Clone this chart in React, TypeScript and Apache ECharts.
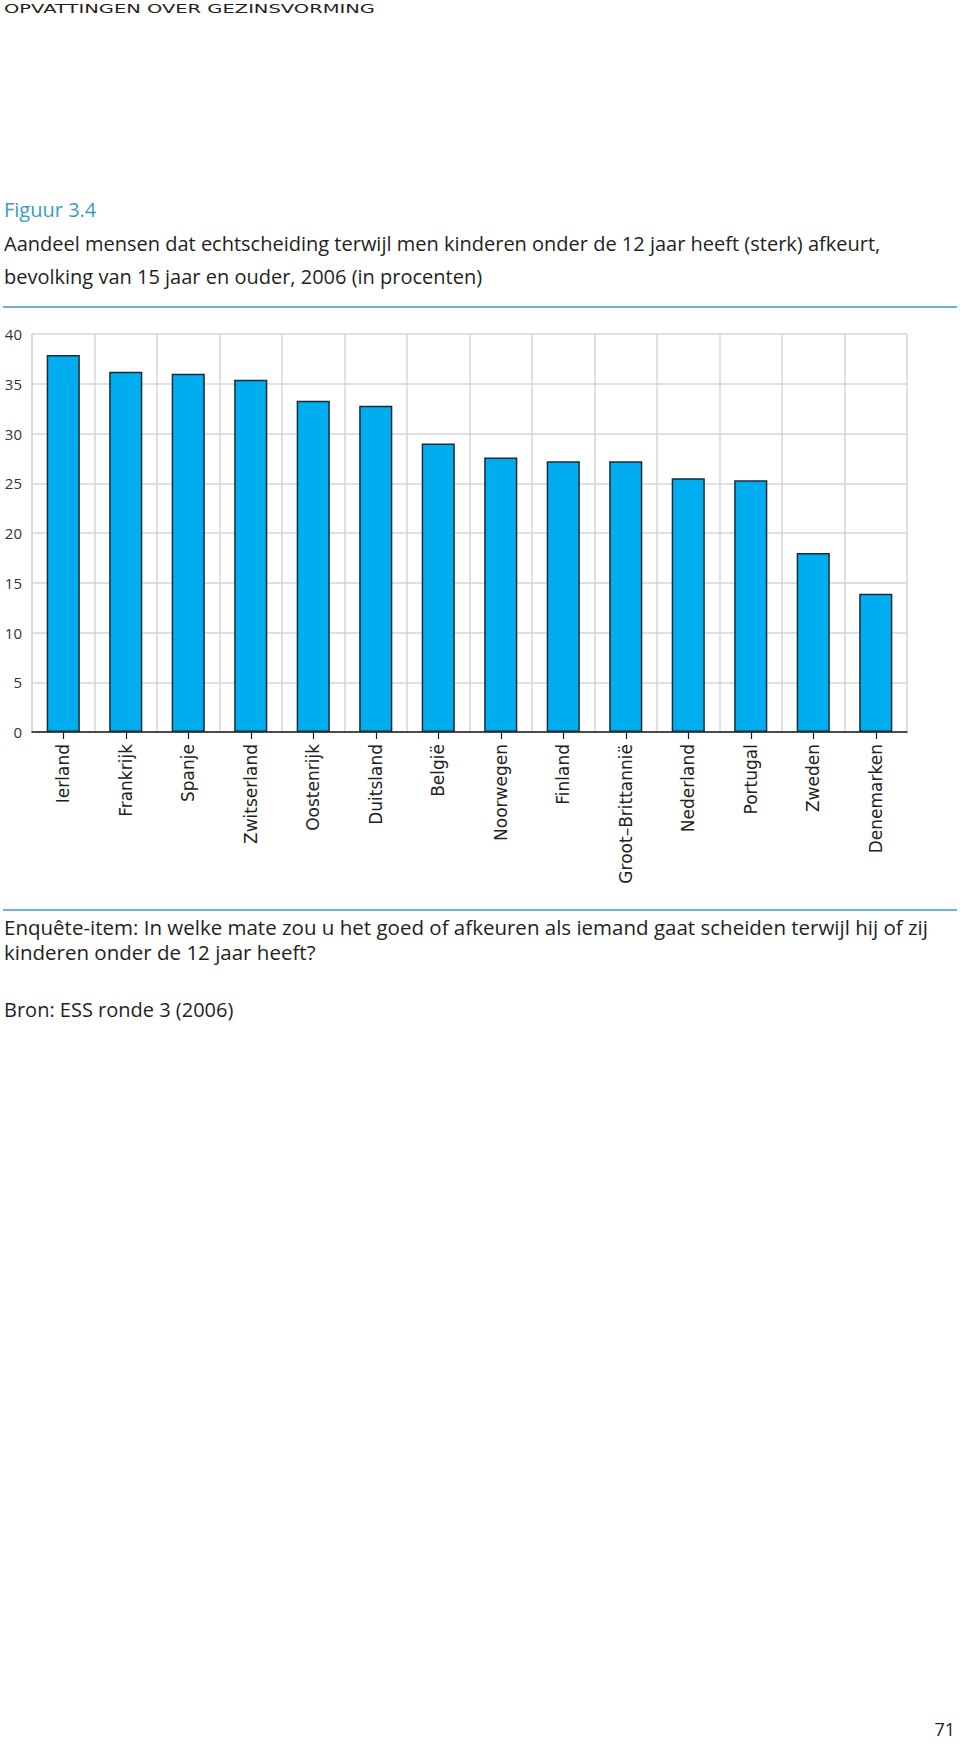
import React, { useEffect, useRef } from "react";
import * as echarts from "echarts";

const categories = [
  "Ierland",
  "Frankrijk",
  "Spanje",
  "Zwitserland",
  "Oostenrijk",
  "Duitsland",
  "België",
  "Noorwegen",
  "Finland",
  "Groot–Brittannië",
  "Nederland",
  "Portugal",
  "Zweden",
  "Denemarken",
];
const values = [37.9, 36.2, 36.0, 35.4, 33.3, 32.8, 29.0, 27.6, 27.2, 27.2, 25.5, 25.3, 18.0, 13.9];

const headerText = "OPVATTINGEN OVER GEZINSVORMING";
const figureLabel = "Figuur 3.4";
const titleLines = [
  "Aandeel mensen dat echtscheiding terwijl men kinderen onder de 12 jaar heeft (sterk) afkeurt,",
  "bevolking van 15 jaar en ouder, 2006 (in procenten)",
];
const noteLines = [
  "Enquête-item: In welke mate zou u het goed of afkeuren als iemand gaat scheiden terwijl hij of zij",
  "kinderen onder de 12 jaar heeft?",
];
const sourceText = "Bron: ESS ronde 3 (2006)";
const pageNumber = "71";

const TEXT = "#231f20";
const TEAL = "#3a9cc0";
const BODY_FONT = "'Open Sans', 'Noto Sans', sans-serif";

export default function App() {
  const ref = useRef<HTMLDivElement>(null);

  useEffect(() => {
    if (!ref.current) return;
    const chart = echarts.init(ref.current, undefined, { renderer: "svg" });

    const text = (
      t: string,
      x: number,
      y: number,
      size: number,
      fill: string,
      extra: any = {}
    ) => ({
      type: "text",
      x,
      y,
      silent: true,
      ...extra,
      style: {
        text: t,
        fill,
        font: `${size}px ${BODY_FONT}`,
        textVerticalAlign: "middle",
        textAlign: "left",
        ...(extra.style || {}),
      },
    });

    const option: any = {
      animation: false,
      backgroundColor: "#ffffff",
      grid: { left: 32, top: 334, width: 875, height: 398, containLabel: false },
      xAxis: {
        type: "category",
        data: categories,
        boundaryGap: true,
        axisLine: { show: true, lineStyle: { color: "#1a1a1a", width: 1.5 } },
        axisTick: {
          show: true,
          alignWithLabel: true,
          length: 7,
          lineStyle: { color: "#1a1a1a", width: 1.2 },
        },
        axisLabel: {
          rotate: 90,
          interval: 0,
          margin: 12,
          color: "#222222",
          fontFamily: "'DejaVu Sans', sans-serif",
          fontSize: 17,
        },
        splitLine: { show: true, lineStyle: { color: "#d6d6d6", width: 1.5 } },
      },
      yAxis: {
        type: "value",
        min: 0,
        max: 40,
        interval: 5,
        axisLine: { show: true, lineStyle: { color: "#d6d6d6", width: 1.5 } },
        axisTick: { show: false },
        axisLabel: {
          margin: 10,
          color: "#333333",
          fontFamily: BODY_FONT,
          fontSize: 15,
        },
        splitLine: { show: true, lineStyle: { color: "#d6d6d6", width: 1.5 } },
      },
      series: [
        {
          type: "bar",
          data: values,
          barWidth: "53%",
          itemStyle: { color: "#00aeef", borderColor: "#1b2a38", borderWidth: 1.5 },
        },
      ],
      graphic: [
        text(headerText, 4, 9, 13, TEXT, { scaleX: 1.5, style: { font: `13px 'DejaVu Sans', sans-serif` } }),
        text(figureLabel, 4, 209, 20, TEAL),
        text(titleLines[0], 4, 243, 20, TEXT),
        text(titleLines[1], 4, 276, 20, TEXT),
        {
          type: "line",
          silent: true,
          shape: { x1: 3, y1: 307, x2: 957, y2: 307 },
          style: { stroke: TEAL, lineWidth: 1.5 },
        },
        {
          type: "line",
          silent: true,
          shape: { x1: 3, y1: 910, x2: 957, y2: 910 },
          style: { stroke: TEAL, lineWidth: 1.5 },
        },
        text(noteLines[0], 4, 927, 20.5, TEXT),
        text(noteLines[1], 4, 952, 20.5, TEXT),
        text(sourceText, 4, 1009, 20, TEXT),
        text(pageNumber, 955, 1729, 18, TEXT, { style: { textAlign: "right" } }),
      ],
    };

    chart.setOption(option);
    return () => chart.dispose();
  }, []);

  return (
    <div
      ref={ref}
      style={{ position: "absolute", left: 0, top: 0, width: 960, height: 1745, background: "#fff" }}
    />
  );
}
